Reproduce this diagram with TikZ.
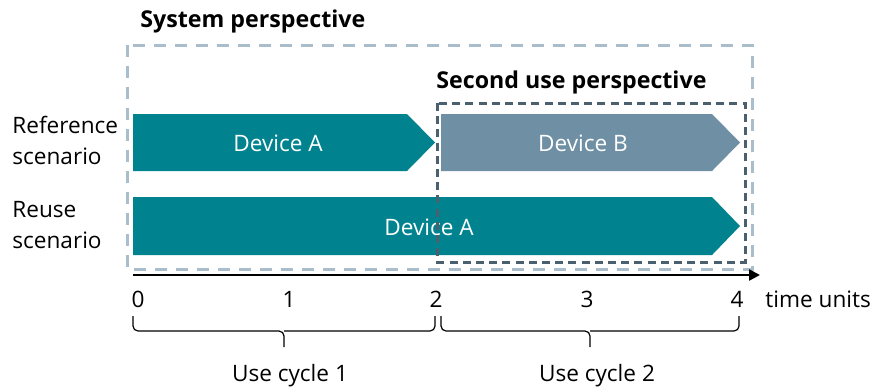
\documentclass[tikz,border=0pt]{standalone}
\usepackage{fontspec}
\setmainfont{Open Sans}
\usetikzlibrary{arrows.meta}
\definecolor{teal}{HTML}{00838F}
\definecolor{slate}{HTML}{6F90A4}
\definecolor{lightframe}{HTML}{A9BECA}
\definecolor{darkframe}{HTML}{4B606E}

\begin{document}
\begin{tikzpicture}[x=0.5pt, y=-0.5pt, font=\fontsize{11.3}{15.5}\selectfont,
  device/.style={text=white, anchor=center},
  scenario/.style={align=left, anchor=west, inner xsep=0pt},
  heading/.style={anchor=base west, inner xsep=0pt, font=\fontsize{11.6}{14}\selectfont\bfseries},
  tick/.style={anchor=base},
  frame/.style={line width=1.5pt, dash pattern=on 6pt off 4.5pt},
  bracket/.style={line width=0.6pt, rounded corners=2.5pt},
  timeline/.style={-{Triangle[length=5.5pt, width=5.5pt]}, line width=1.2pt},
]
\useasboundingbox (0,0) rectangle (870,387);

% devices
\fill[teal] (133,114) -- (407,114) -- (435,142.5) -- (407,171) -- (133,171) -- cycle;
\fill[slate] (441,114) -- (712,114) -- (740,142.5) -- (712,171) -- (441,171) -- cycle;
\fill[teal] (133,197) -- (712,197) -- (740,226) -- (712,255) -- (133,255) -- cycle;
\node[device] (devA1) at (278,143) {Device A};
\node[device] (devB) at (583,143) {Device B};
\node[device] (devA2) at (429,227) {Device A};

% frames
\draw[frame, color=lightframe] (127,45) rectangle (752,269);
\draw[frame, color=darkframe, dash pattern=on 4pt off 2.6pt] (437,103) rectangle (745,262);
\node[heading] (system) at (140,27) {System perspective};
\node[heading] (seconduse) at (436,88) {Second use perspective};

% scenarios
\node[scenario] (refscen) at (12,140) {Reference\\scenario};
\node[scenario] (reuscen) at (12,225) {Reuse\\scenario};

% time axis
\coordinate (start) at (133,275);
\coordinate (end) at (760,275);
\draw[timeline] (start) -- (end);
\foreach \t/\x in {0/138, 1/289, 2/436, 3/587, 4/737}
  \node[tick] (t\t) at (\x,307) {\t};
\node[anchor=base west, inner xsep=0pt] (units) at (765,307) {time units};

% use cycles
\draw[bracket] (133,316) |- (284,331) -- (284,347);
\draw[bracket] (284,331) -| (435,316);
\draw[bracket] (441,316) |- (590,331) -- (590,347);
\draw[bracket] (590,331) -| (739,316);
\node[anchor=base] (cycle1) at (290,381) {Use cycle 1};
\node[anchor=base] (cycle2) at (597,381) {Use cycle 2};
\end{tikzpicture}
\end{document}
